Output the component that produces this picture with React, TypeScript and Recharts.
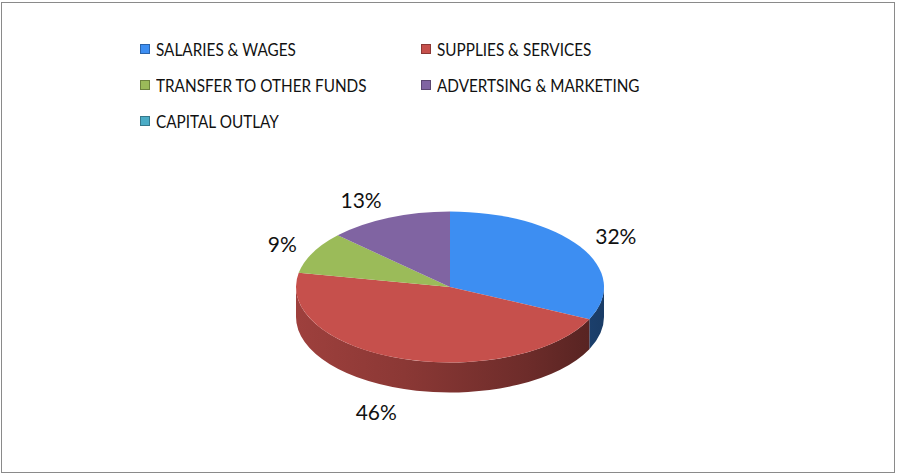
import React from 'react';
import { PieChart, Pie, Cell, Legend } from 'recharts';

const categories = [
  'SALARIES & WAGES',
  'SUPPLIES & SERVICES',
  'TRANSFER TO OTHER FUNDS',
  'ADVERTSING & MARKETING',
  'CAPITAL OUTLAY',
];
const shares = [32, 46, 9, 13, 0];

const colors = ['#3d8ef2', '#c6504c', '#9bbb59', '#8064a2', '#4bacc6'];

const data = categories.map((name, i) => ({ name, value: shares[i] }));

// 3D look: squashed ellipse + a wall underneath
const TILT = 0.49;
const DEPTH = 30;
const RAD = Math.PI / 180;

function shade(hex: string, f: number) {
  const n = parseInt(hex.slice(1), 16);
  const r = Math.round(((n >> 16) & 255) * f);
  const g = Math.round(((n >> 8) & 255) * f);
  const b = Math.round((n & 255) * f);
  return `rgb(${r},${g},${b})`;
}

function pt(cx: number, cy: number, r: number, deg: number) {
  return [cx + r * Math.cos(deg * RAD), cy - r * TILT * Math.sin(deg * RAD)];
}

function TopSlice(props: any) {
  const { cx, cy, outerRadius: r, startAngle, endAngle, fill } = props;
  if (Math.abs(startAngle - endAngle) < 0.01) return <g />;
  const [x1, y1] = pt(cx, cy, r, startAngle);
  const [x2, y2] = pt(cx, cy, r, endAngle);
  const large = Math.abs(startAngle - endAngle) > 180 ? 1 : 0;
  const sweep = startAngle > endAngle ? 1 : 0;
  const d = `M${cx},${cy} L${x1},${y1} A${r},${r * TILT} 0 ${large} ${sweep} ${x2},${y2} Z`;
  return <path d={d} fill={fill} stroke="none" />;
}

function SideSlice(props: any) {
  const { cx, cy, outerRadius: r, startAngle, endAngle, fill } = props;
  const hi = Math.min(Math.max(startAngle, endAngle), 0);
  const lo = Math.max(Math.min(startAngle, endAngle), -180);
  if (hi - lo < 0.01) return <g />;
  const [x1, y1] = pt(cx, cy, r, hi);
  const [x2, y2] = pt(cx, cy, r, lo);
  const ry = r * TILT;
  const d =
    `M${x1},${y1} A${r},${ry} 0 0 1 ${x2},${y2} ` +
    `L${x2},${y2 + DEPTH} A${r},${ry} 0 0 0 ${x1},${y1 + DEPTH} Z`;
  return <path d={d} fill={fill} stroke="none" />;
}

function renderLabel(p: any) {
  if (!p.value) return null;
  const c = Math.cos(p.midAngle * RAD);
  const s = Math.sin(p.midAngle * RAD);
  const x = p.cx + (p.outerRadius + 18) * c;
  const y = p.cy - (p.outerRadius * TILT + 20) * s + (s < 0 ? DEPTH + 4 : 0);
  return (
    <text
      x={x}
      y={y}
      textAnchor={c >= 0 ? 'start' : 'end'}
      dominantBaseline="central"
      fontFamily="Lato, 'Open Sans', sans-serif"
      fontSize={21}
      fill="#111"
    >
      {`${Math.round(p.percent * 100)}%`}
    </text>
  );
}

function renderLegend() {
  return (
    <div
      style={{
        display: 'grid',
        gridTemplateColumns: '281px 281px',
        paddingLeft: 140,
        paddingTop: 31,
      }}
    >
      {categories.map((name, i) => (
        <div key={name} style={{ display: 'flex', alignItems: 'center', height: 36 }}>
          <span
            style={{
              width: 8,
              height: 8,
              flex: 'none',
              background: colors[i],
              border: `1px solid ${shade(colors[i], 0.7)}`,
              marginRight: 6,
            }}
          />
          <span
            style={{
              display: 'inline-block',
              whiteSpace: 'nowrap',
              fontFamily: 'Lato, sans-serif',
              fontSize: 18,
              color: '#111',
              transform: 'scaleX(0.85)',
              transformOrigin: 'left center',
            }}
          >
            {name}
          </span>
        </div>
      ))}
    </div>
  );
}

export default function App() {
  return (
    <div style={{ position: 'absolute', left: 0, top: 0, width: 897, height: 475, background: '#fff' }}>
      <div
        style={{
          position: 'absolute',
          left: 1,
          top: 2,
          width: 894,
          height: 471,
          border: '1px solid #8a8a8a',
          boxSizing: 'border-box',
        }}
      />
      <div style={{ position: 'absolute', left: 0, top: 0 }}>
        <PieChart width={897} height={475} margin={{ top: 0, right: 0, bottom: 0, left: 0 }}>
          <defs>
            {colors.map((c, i) => (
              <linearGradient key={c} id={`side-${i}`} x1={296} x2={604} y1={0} y2={0} gradientUnits="userSpaceOnUse">
                <stop offset="0" stopColor={shade(c, 0.8)} />
                <stop offset="0.35" stopColor={shade(c, 0.7)} />
                <stop offset="0.75" stopColor={shade(c, 0.55)} />
                <stop offset="1" stopColor={shade(c, 0.42)} />
              </linearGradient>
            ))}
          </defs>
          <Pie
            data={data}
            dataKey="value"
            nameKey="name"
            cx={450}
            cy={287}
            outerRadius={154}
            startAngle={90}
            endAngle={-270}
            shape={SideSlice}
            activeShape={SideSlice}
            legendType="none"
            isAnimationActive={false}
            label={false}
            labelLine={false}
          >
            {data.map((d, i) => (
              <Cell key={d.name} fill={`url(#side-${i})`} />
            ))}
          </Pie>
          <Pie
            data={data}
            dataKey="value"
            nameKey="name"
            cx={450}
            cy={287}
            outerRadius={154}
            startAngle={90}
            endAngle={-270}
            shape={TopSlice}
            activeShape={TopSlice}
            isAnimationActive={false}
            label={renderLabel}
            labelLine={false}
          >
            {data.map((d, i) => (
              <Cell key={d.name} fill={colors[i]} />
            ))}
          </Pie>
          <Legend
            content={renderLegend}
            wrapperStyle={{ top: 0, left: 0, bottom: 'auto', width: 897 }}
          />
        </PieChart>
      </div>
    </div>
  );
}
